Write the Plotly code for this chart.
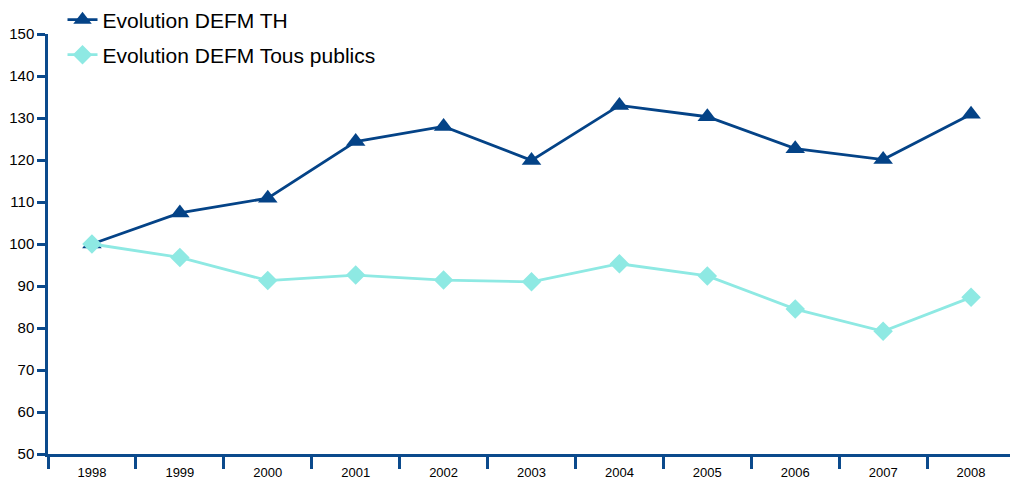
import plotly.graph_objects as go

years = ["1998", "1999", "2000", "2001", "2002", "2003", "2004", "2005", "2006", "2007", "2008"]
th = [100.0, 107.4, 110.9, 124.4, 128.0, 119.9, 133.0, 130.3, 122.7, 120.1, 130.9]
tous = [100.0, 96.8, 91.3, 92.6, 91.4, 91.0, 95.3, 92.4, 84.5, 79.2, 87.3]
y_ticks = [50, 60, 70, 80, 90, 100, 110, 120, 130, 140, 150]

dark = "#044387"
light = "#8EE9E3"
axis_col = "#0B4A8C"
fam = "Liberation Sans, Arial, sans-serif"

# page body has an 8px default margin, so the figure is sized to compensate
fig = go.Figure()
fig.add_trace(go.Scatter(
    x=years, y=th, name="Evolution DEFM TH", mode="lines+markers",
    line=dict(color=dark, width=2.8),
    marker=dict(symbol="triangle-up", size=17, color=dark),
    legend="legend",
))
fig.add_trace(go.Scatter(
    x=years, y=tous, name="Evolution DEFM Tous publics", mode="lines+markers",
    line=dict(color=light, width=2.8),
    marker=dict(symbol="diamond", size=15, color=light),
    legend="legend2",
))

legend_common = dict(
    font=dict(family=fam, size=21, color="#000000"),
    bgcolor="rgba(0,0,0,0)", xanchor="left", yanchor="middle", itemwidth=30,
)

top = 26
plot_h = 420
fig.update_layout(
    width=1010, height=475,
    margin=dict(l=40, r=3, t=top, b=29, autoexpand=False),
    plot_bgcolor="white", paper_bgcolor="white",
    font=dict(family=fam, color="#000000"),
    showlegend=True,
    legend=dict(x=0.015, y=1 + (34 - 20) / plot_h, **legend_common),
    legend2=dict(x=0.015, y=1 + (34 - 55) / plot_h, **legend_common),
    xaxis=dict(
        type="category", range=[-0.5, 10.5], tickson="boundaries",
        showline=True, linecolor=axis_col, linewidth=2.5,
        ticks="outside", ticklen=12, tickwidth=2.5, tickcolor=axis_col,
        showgrid=False, zeroline=False,
        tickfont=dict(size=13, color="#000000"),
        ticklabelstandoff=5,
    ),
    yaxis=dict(
        range=[50, 150], tickvals=y_ticks,
        showline=True, linecolor=axis_col, linewidth=2.5,
        ticks="outside", ticklen=8, tickwidth=2.5, tickcolor=axis_col,
        showgrid=False, zeroline=False,
        tickfont=dict(size=15, color="#000000"),
    ),
)

fig.write_html("out.html")
